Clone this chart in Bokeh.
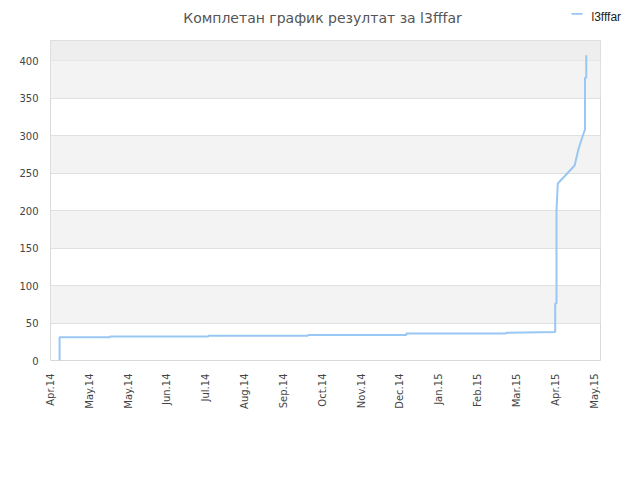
import pandas as pd
from bokeh.plotting import figure
from bokeh.layouts import column
from bokeh.models import (Range1d, FixedTicker, DatetimeTickFormatter,
                          BoxAnnotation, Label)
from bokeh.embed import file_html
from bokeh.resources import INLINE

title_text = "Комплетан график резултат за l3fffar"
series_name = "l3fffar"

dates = ["2014-04-08", "2014-04-08", "2014-05-17", "2014-05-17", "2014-08-01",
         "2014-08-01", "2014-10-17", "2014-10-17", "2015-01-01", "2015-01-01",
         "2015-03-19", "2015-03-19", "2015-04-26", "2015-04-26", "2015-04-27",
         "2015-04-27", "2015-04-28", "2015-05-11", "2015-05-14", "2015-05-17",
         "2015-05-19", "2015-05-19", "2015-05-20", "2015-05-20"]
values = [0, 31, 31, 32, 32, 33, 33, 34, 34, 36,
          36, 37, 38, 76, 76, 200, 236, 260, 282, 298,
          308, 377, 377, 407]

tick_dates = ["2014-04-01", "2014-05-01", "2014-05-31", "2014-06-30", "2014-07-30",
              "2014-08-29", "2014-09-28", "2014-10-28", "2014-11-27", "2014-12-27",
              "2015-01-26", "2015-02-25", "2015-03-27", "2015-04-26", "2015-05-26"]
y_ticks = [0, 50, 100, 150, 200, 250, 300, 350, 400]

LINE_COLOR = "#99c7f3"
W = 632
HEAD_H = 40
LEFT = 50          # main frame left border (header frame gets aligned to it)

x = pd.to_datetime(dates)
x_start = pd.Timestamp("2014-04-01")
x_end = pd.Timestamp("2015-05-31")

# ---------- header: title + legend key (page-pixel coordinates) ----------
head = figure(frame_width=W, frame_height=HEAD_H,
              output_backend="svg", toolbar_location=None, title=None,
              x_range=Range1d(LEFT, LEFT + W), y_range=Range1d(0, HEAD_H),
              x_axis_location=None, y_axis_location=None,
              min_border=0, min_border_left=0, min_border_right=0,
              min_border_top=0, min_border_bottom=0)
head.outline_line_color = None
head.xgrid.visible = False
head.ygrid.visible = False
head.background_fill_color = "white"
head.border_fill_color = "white"
head.add_layout(Label(x=322, y=HEAD_H - 17.5, text=title_text, text_align="center",
                      text_baseline="alphabetic", text_font="DejaVu Sans",
                      text_font_size="14px", text_color="#555555"))
# legend key
head.add_layout(BoxAnnotation(left=571, right=582, bottom=HEAD_H - 14.2,
                              top=HEAD_H - 12.4, fill_color=LINE_COLOR,
                              fill_alpha=1, line_color=None))
head.add_layout(Label(x=591, y=HEAD_H - 16, text=series_name, text_align="left",
                      text_baseline="alphabetic", text_font="Liberation Sans",
                      text_font_size="12px", text_color="#222222"))

# ---------- main chart ----------
p = figure(width=W, height=432, output_backend="svg", toolbar_location=None,
           title=None, x_axis_type="datetime",
           x_range=Range1d(x_start, x_end), y_range=Range1d(0, 426.7),
           min_border_left=LEFT, min_border_right=32, min_border_top=0,
           min_border_bottom=112)

p.background_fill_color = "white"
p.border_fill_color = "white"
p.outline_line_color = "#d9d9d9"

p.add_layout(BoxAnnotation(bottom=400, fill_color="#eeeeee", fill_alpha=1,
                           line_color=None, level="underlay"))

p.xgrid.grid_line_color = None
p.ygrid.ticker = FixedTicker(ticks=y_ticks)
p.ygrid.grid_line_color = "#e0e0e0"
p.ygrid.band_fill_color = "#f3f3f3"
p.ygrid.band_fill_alpha = 1.0

tick_ms = [pd.Timestamp(d).value / 1e6 for d in tick_dates]
xa = p.xaxis[0]
xa.ticker = FixedTicker(ticks=tick_ms)
fmt = "%b.%y"
xa.formatter = DatetimeTickFormatter(microseconds=fmt, milliseconds=fmt, seconds=fmt,
                                     minsec=fmt, minutes=fmt, hourmin=fmt, hours=fmt,
                                     days=fmt, months=fmt, years=fmt)
xa.major_label_orientation = 1.5707963
xa.axis_line_color = None
xa.major_tick_line_color = None
xa.minor_tick_line_color = None
xa.major_tick_out = 0
xa.major_label_standoff = 13
xa.major_label_text_font = "DejaVu Sans"
xa.major_label_text_font_size = "10px"
xa.major_label_text_color = "#444444"

ya = p.yaxis[0]
ya.ticker = FixedTicker(ticks=y_ticks)
ya.axis_line_color = None
ya.major_tick_line_color = None
ya.minor_tick_line_color = None
ya.major_tick_out = 0
ya.major_label_standoff = 12
ya.major_label_text_font = "DejaVu Sans"
ya.major_label_text_font_size = "10px"
ya.major_label_text_color = "#444444"

p.line(x, values, line_color=LINE_COLOR, line_width=2)

layout = column(head, p, spacing=0)
open("out.html", "w").write(file_html(layout, INLINE))
